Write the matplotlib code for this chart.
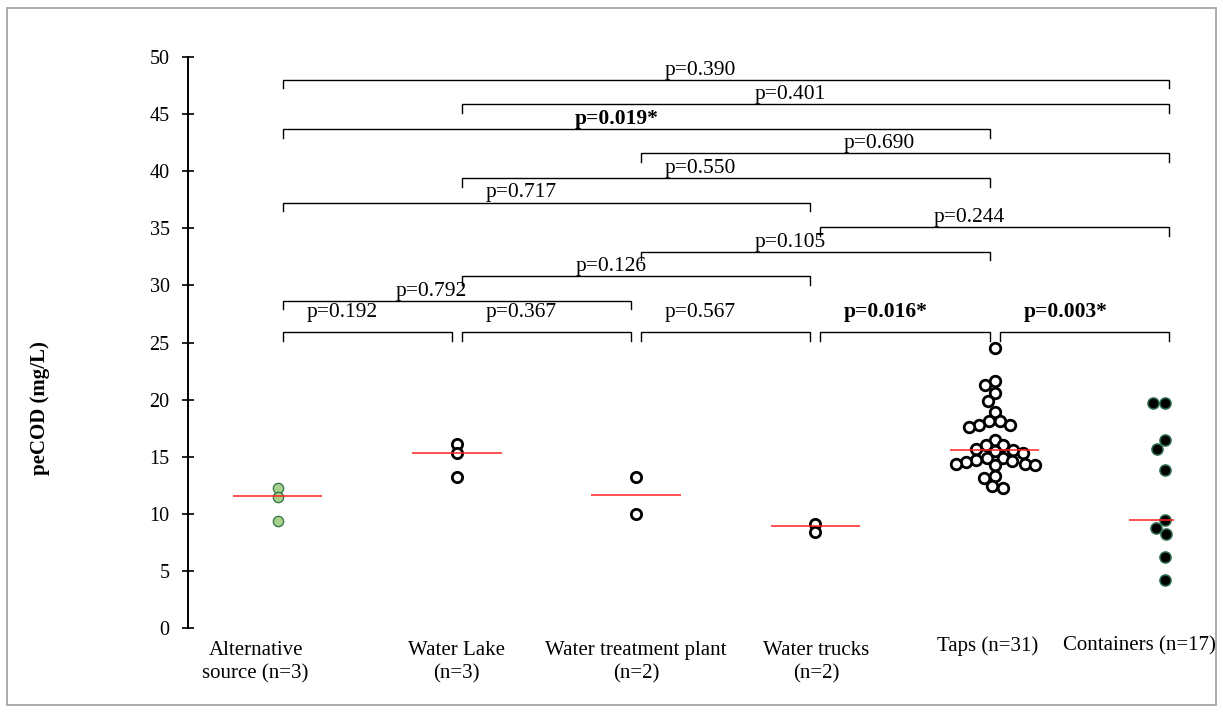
import numpy as np
import matplotlib
matplotlib.use("Agg")
import matplotlib.pyplot as plt
from matplotlib import transforms
from matplotlib.patches import Rectangle

# ---------------- data ----------------
categories = ["Alternative\nsource (n=3)", "Water Lake\n(n=3)",
              "Water treatment plant\n(n=2)", "Water trucks\n(n=2)",
              "Taps (n=31)", "Containers (n=17)"]
alternative = [12.3, 11.5, 9.4]
water_lake = [16.1, 15.3, 13.2]
treatment_plant = [13.25, 10.0]
water_trucks = [9.15, 8.45]
taps = [24.5, 21.6, 21.3, 20.6, 19.9, 18.9, 18.1, 18.1, 17.8, 17.8, 17.6,
        16.5, 16.0, 16.0, 15.7, 15.6, 15.5, 15.3, 14.9, 14.9, 14.7, 14.6,
        14.5, 14.4, 14.4, 14.3, 14.3, 13.3, 13.1, 12.4, 12.3]
containers = [19.7, 19.7, 16.5, 15.7, 13.8, 9.5, 8.8, 8.2, 6.2, 4.2]
medians = [11.55, 15.3, 11.65, 8.9, 15.6, 9.45]

comparisons = [(1, 6), (2, 6), (1, 5), (3, 6), (2, 5), (1, 4), (4, 6),
               (3, 5), (2, 4), (1, 3), (1, 2), (2, 3), (3, 4), (4, 5), (5, 6)]
p_labels = ["p=0.390", "p=0.401", "p=0.019*", "p=0.690", "p=0.550",
            "p=0.717", "p=0.244", "p=0.105", "p=0.126", "p=0.792",
            "p=0.192", "p=0.367", "p=0.567", "p=0.016*", "p=0.003*"]
bracket_level = [10, 9, 8, 7, 6, 5, 4, 3, 2, 1, 0, 0, 0, 0, 0]

yticks = list(range(0, 51, 5))

groups = [alternative, water_lake, treatment_plant, water_trucks, taps, containers]

# ---------------- style ----------------
W, H, DPI = 1223, 712, 100
plt.rcParams["font.family"] = ["Liberation Serif", "DejaVu Serif"]

fig = plt.figure(figsize=(W / DPI, H / DPI), dpi=DPI)
ax_l, ax_r, ax_t, ax_b = 188, 1215, 57, 628
ax = fig.add_axes([ax_l / W, 1 - ax_b / H, (ax_r - ax_l) / W, (ax_b - ax_t) / H])
XMIN, XMAX, YMIN, YMAX = 0.5, 6.23, 0, 50
ax.set_xlim(XMIN, XMAX)
ax.set_ylim(YMIN, YMAX)
ppx = (ax_r - ax_l) / (XMAX - XMIN)
ppy = (ax_b - ax_t) / (YMAX - YMIN)

for s in ["top", "right", "bottom"]:
    ax.spines[s].set_visible(False)
ax.spines["left"].set_linewidth(1.4)
ax.set_xticks([])
ax.set_yticks(yticks)
ax.tick_params(axis="y", direction="inout", length=8.6, width=1.2,
               pad=9, labelsize=14.5)
ax.patch.set_alpha(0)


def swarm_offsets(vals, d_px):
    vals = np.asarray(vals, dtype=float)
    ypx = vals * ppy
    order = np.argsort(-vals, kind="stable")
    placed = []
    offs = np.zeros(len(vals))
    for i in order:
        y = ypx[i]
        cands = [0.0]
        for (xj, yj) in placed:
            dy = y - yj
            if abs(dy) < d_px:
                dx = np.sqrt(d_px ** 2 - dy ** 2)
                cands += [xj + dx, xj - dx]
        cands = sorted(cands, key=lambda c: (abs(c), c))
        chosen = cands[-1]
        for c in cands:
            if all((c - xj) ** 2 + (y - yj) ** 2 >= d_px ** 2 - 1e-6 for xj, yj in placed):
                chosen = c
                break
        placed.append((chosen, y))
        offs[i] = chosen
    return offs / ppx


face = ["#a9d18e", "white", "white", "white", "white", "black"]
edge = ["#3b7a4e", "black", "black", "black", "black", "#2d6e4e"]
msize = [7.4, 7.4, 7.4, 7.4, 7.6, 8.0]
mew = [1.0, 2.0, 2.0, 2.0, 2.0, 1.1]
swarm_d = [7, 7, 7, 7, 10.5, 12]
center_dx = [0, 0, 0, 0, 0, -0.05]
med_span = [(-0.25, 0.25)] * 5 + [(-0.25, 0.0)]

for k, vals in enumerate(groups):
    pos = k + 1
    offs = swarm_offsets(vals, swarm_d[k])
    ax.plot(pos + center_dx[k] + offs, vals, "o", ms=msize[k], mfc=face[k],
            mec=edge[k], mew=mew[k], ls="none", zorder=3)
    a, b = med_span[k]
    ax.plot([pos + a, pos + b], [medians[k], medians[k]], color="#ff2020",
            lw=1.1, zorder=4, solid_capstyle="butt")

# brackets
end_gap = 0.028
drop = 0.75
for (i, j), lab, lev in zip(comparisons, p_labels, bracket_level):
    y = 25.9 if lev == 0 else 28.65 + (lev - 1) * 2.15
    txt_off = 1.3 if lev == 0 else 0.45
    x1, x2 = i + end_gap, j - end_gap
    ax.plot([x1, x1, x2, x2], [y - drop, y, y, y - drop], color="black",
            lw=1.0, zorder=2, solid_joinstyle="miter")
    bold = lab.endswith("*")
    ax.text((i + j) / 2 - 0.34, y + txt_off, lab, ha="left", va="baseline",
            fontsize=15.5, fontweight="bold" if bold else "normal", zorder=5)

# category labels
label_dx_px = [-22, 0, 0, 1, -7, -34]
blend = transforms.blended_transform_factory(ax.transData, fig.transFigure)
for k, lab in enumerate(categories):
    top_px = 641 if "\n" in lab else 636
    tr = blend + transforms.ScaledTranslation(label_dx_px[k] / DPI, 0, fig.dpi_scale_trans)
    ax.text(k + 1, 1 - top_px / H, lab, transform=tr, ha="center", va="top",
            fontsize=15, linespacing=1.3, multialignment="center")

fig.text(40 / W, 1 - 408 / H, "peCOD (mg/L)", rotation=90, ha="center",
         va="center", fontsize=15, fontweight="bold")

fig.patches.append(Rectangle((7 / W, 1 - 705 / H), (1216 - 7) / W, (705 - 8) / H,
                             transform=fig.transFigure, fill=False,
                             edgecolor="#a6a6a6", lw=1.3))

fig.savefig("out.png", dpi=DPI)
